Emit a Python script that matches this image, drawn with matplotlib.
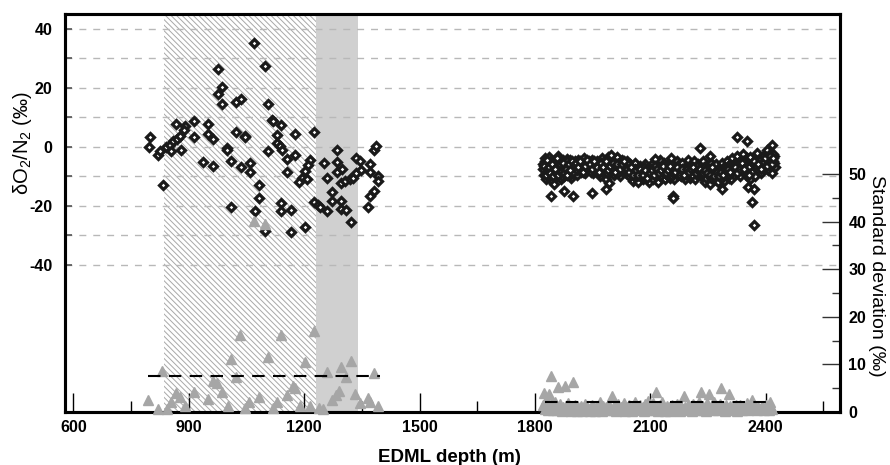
import matplotlib
matplotlib.use("Agg")
import matplotlib.pyplot as plt
from matplotlib.ticker import FixedLocator

plt.rcParams['font.family'] = ['Liberation Sans', 'DejaVu Sans']
plt.rcParams['mathtext.fontset'] = 'custom'
plt.rcParams['mathtext.rm'] = 'Liberation Sans'
plt.rcParams['mathtext.bf'] = 'Liberation Sans:bold'
plt.rcParams['hatch.linewidth'] = 0.7

# ---- shallow section (835-1400 m) : dO2/N2 ----
depth_a = [1070, 1098, 975, 987, 975, 987, 1023, 1035, 1105, 1117, 1119, 1140, 867, 891, 914, 951,
           799, 797, 819, 825, 841, 851, 854, 860, 868, 877, 879, 888, 914, 951, 962, 1023,
           1046, 1047, 998, 999, 1010, 937, 962, 1035, 1058, 1058, 1129, 1128, 1136, 1141, 1106, 1154,
           1177, 1177, 1154, 1225, 1214, 1210, 1201, 1193, 1186, 1206, 1083, 1083, 1010, 1071,
           1098, 1140, 1140, 1165, 1165, 1201, 832, 1225, 1236, 1241, 1260, 1251, 1260, 1286,
           1286, 1286, 1298, 1296, 1307, 1318, 1327, 1334, 1344, 1335, 1348, 1370, 1370, 1381,
           1387, 1392, 1393, 1273, 1273, 1296, 1296, 1308, 1322, 1381, 1370, 1367]
o2n2_a = [35.0, 27.5, 26.5, 20.3, 17.9, 14.6, 15.0, 16.0, 14.5, 9.1, 8.6, 7.2, 7.6, 6.9, 8.7, 7.6,
          3.2, -0.2, -2.7, -1.6, 0.0, 0.5, -1.6, 1.8, 2.6, 3.5, -1.0, 5.7, 3.2, 4.3, 2.6, 5.0,
          3.7, 3.2, -0.4, -1.2, -4.8, -5.1, -6.4, -7.0, -5.5, -8.6, 4.1, 1.2, 0.1, -1.0, -1.6, -4.2,
          4.3, -2.9, -8.6, 5.1, -4.4, -6.1, -8.1, -10.6, -12.0, -11.1, -13.0, -17.4, -20.4, -21.8,
          -28.5, -19.1, -21.8, -21.5, -28.8, -27.4, -13.0, -18.8, -19.9, -20.4, -21.8, -5.7, -10.7, -1.2,
          -5.1, -8.7, -7.5, -12.3, -11.7, -11.1, -10.6, -3.7, -5.0, -8.9, -7.8, -5.8, -8.6, -1.0,
          0.1, -10.0, -11.7, -15.3, -18.5, -18.5, -21.0, -21.5, -25.6, -14.9, -16.8, -20.4]

# ---- shallow section : standard deviation ----
depth_sa = [1033, 1140, 1225, 1009, 1106, 1201, 831, 1321, 1296, 1260, 1381, 1308, 962, 974, 1023,
            1171, 1175, 1290, 1283, 1273, 1333, 1366, 1370, 1392, 1346, 795, 867, 877, 914, 854,
            890, 819, 842, 950, 987, 1002, 1046, 1057, 1082, 1119, 1129, 1154, 1190, 1214, 1238,
            1249, 1070, 1098]
sd_a = [16.2, 16.2, 17.1, 11.1, 11.6, 10.6, 8.7, 10.8, 9.5, 8.3, 8.2, 7.4, 6.5, 6.1, 7.3,
        5.4, 5.1, 4.4, 3.6, 2.5, 3.7, 3.0, 2.0, 1.3, 1.8, 2.5, 3.9, 3.2, 4.2, 2.0,
        1.3, 0.6, 0.6, 2.7, 4.1, 1.3, 0.9, 2.0, 3.2, 0.9, 2.0, 3.5, 1.3, 1.3, 0.9,
        0.6, 40.1, 39.5]

# ---- deep section (1820-2425 m) : dO2/N2 ----
depth_b = [1821, 1823, 1825, 1827, 1829, 1831, 1833, 1835, 1837, 1839, 1841, 1843, 1845, 1847, 1849,
           1851, 1853, 1855, 1857, 1859, 1861, 1863, 1865, 1867, 1869, 1871, 1873, 1875, 1877, 1880,
           1883, 1885, 1888, 1890, 1893, 1895, 1898, 1841, 1850, 1876, 1898, 1884,
           1901, 1904, 1907, 1910, 1913, 1916, 1919, 1922, 1925, 1928, 1931, 1934, 1937, 1940, 1943,
           1946, 1949, 1952, 1955, 1958, 1947,
           1961, 1964, 1967, 1970, 1973, 1976, 1979, 1982, 1985, 1988, 1991, 1994, 1997, 2000, 2003,
           2006, 2009, 2012, 2015, 2018, 2021, 2024, 2027, 2030, 2033, 2036, 2039, 1984, 1993, 1998,
           2042, 2045, 2048, 2051, 2054, 2057, 2060, 2063, 2066, 2069, 2072, 2075, 2078, 2081, 2084,
           2087, 2090, 2093, 2096, 2099,
           2102, 2105, 2108, 2111, 2114, 2117, 2120, 2123, 2126, 2129, 2132, 2135, 2138, 2141, 2144,
           2147, 2150, 2153, 2156, 2159, 2162, 2165, 2168, 2171, 2174, 2177, 2112, 2159, 2160,
           2180, 2183, 2186, 2189, 2192, 2195, 2198, 2201, 2204, 2207, 2210, 2213, 2216, 2219, 2222,
           2225, 2228, 2231, 2234, 2237, 2229,
           2240, 2243, 2246, 2249, 2252, 2255, 2258, 2261, 2264, 2267, 2270, 2273, 2276, 2279, 2282,
           2285, 2288, 2291, 2294, 2297, 2254, 2285, 2304,
           2300, 2303, 2306, 2309, 2312, 2315, 2318, 2321, 2324, 2327, 2330, 2333, 2336, 2339, 2324,
           2342, 2345, 2348, 2350, 2352, 2354, 2356, 2358, 2360, 2363, 2365, 2367, 2369, 2369, 2372,
           2375, 2378, 2381, 2384, 2387, 2390,
           2393, 2396, 2399, 2402, 2405, 2408, 2411, 2413, 2415, 2417, 2419, 2421, 2423,
           1822, 1826, 1830, 1834, 1838, 1842, 1846, 1850, 1854, 1858, 1862, 1866, 1870, 1874, 1878,
           1882, 1886, 1890, 1894, 1899,
           1903, 1909, 1915, 1921, 1927, 1933, 1939, 1945, 1951, 1957, 1963, 1969, 1975, 1981, 1987,
           1993, 1999, 2005, 2011, 2017, 2023, 2029, 2035, 2041,
           2047, 2053, 2059, 2065, 2071, 2077, 2083, 2089, 2095, 2101, 2107, 2113, 2119, 2125, 2131,
           2137, 2143, 2149, 2155, 2161, 2167, 2173, 2179,
           2185, 2191, 2197, 2203, 2209, 2215, 2221, 2227, 2233, 2239, 2245, 2251, 2257, 2263, 2269,
           2275, 2281, 2287, 2293, 2299, 2305, 2311, 2317, 2323, 2329, 2335, 2341,
           2394, 2400, 2406, 2412, 2418, 2422,
           1824, 1828, 1832, 1836, 1840, 1844, 1848, 1852, 1856, 1860, 1864, 1868, 1872, 1876, 1880,
           1884, 1888, 1892, 1896,
           1906, 1912, 1918, 1924, 1930, 1936, 1942, 1948, 1954, 1960, 1966, 1972, 1978, 1984, 1990,
           1996, 2002, 2008, 2014, 2020, 2026, 2032, 2038,
           2044, 2050, 2056, 2062, 2068, 2074, 2080, 2086, 2092, 2098, 2104, 2110, 2116, 2122, 2128,
           2134, 2140, 2146, 2152, 2158, 2164, 2170, 2176,
           2182, 2188, 2194, 2200, 2206, 2212, 2218, 2224, 2230, 2236, 2242, 2248, 2254, 2260, 2266,
           2272, 2278, 2284, 2290, 2296, 2302, 2308, 2314, 2320, 2326, 2332, 2338,
           2344, 2357, 2370, 2380, 2388, 2398, 2404, 2410, 2416, 2420]
o2n2_b = [-6.0, -9.5, -4.0, -8.0, -11.0, -5.5, -7.5, -10.0, -3.5, -8.5, -6.5, -11.5, -5.0, -9.0, -7.0,
          -4.5, -10.5, -6.0, -8.5, -3.0, -7.5, -9.5, -5.5, -11.0, -6.5, -8.0, -4.5, -10.0, -7.0, -5.5,
          -9.0, -6.0, -8.0, -4.5, -10.5, -7.0, -5.5, -16.8, -12.8, -15.1, -16.8, -4.1,
          -8.0, -5.0, -7.0, -9.5, -4.5, -6.5, -8.5, -5.5, -7.5, -4.0, -9.0, -6.0, -7.5, -5.0, -8.0,
          -6.5, -4.5, -9.0, -6.0, -7.5, -15.6,
          -5.0, -8.0, -6.0, -10.0, -4.0, -7.0, -9.0, -5.5, -11.0, -6.5, -3.5, -8.5, -5.5, -7.5, -4.5,
          -9.5, -6.0, -3.5, -8.0, -5.5, -10.0, -6.5, -4.5, -8.5, -6.0, -9.0, -5.0, -14.2, -12.3, -2.7,
          -7.0, -10.0, -6.0, -9.0, -11.5, -7.5, -5.5, -10.5, -8.0, -12.0, -6.5, -9.5, -7.5, -11.0, -8.5,
          -6.0, -10.0, -8.0, -12.0, -7.0,
          -9.5, -6.0, -11.0, -7.5, -5.0, -9.0, -12.0, -7.0, -4.5, -10.0, -8.0, -5.5, -11.0, -7.5, -9.5,
          -6.0, -10.5, -4.0, -8.5, -6.5, -11.0, -7.0, -5.0, -9.5, -6.0, -8.0, -4.2, -16.8, -17.4,
          -10.0, -5.5, -8.0, -11.0, -6.5, -9.0, -4.5, -7.5, -10.5, -6.0, -8.5, -5.0, -11.0, -7.0, -9.5,
          -6.0, -8.0, -10.0, -7.0, -5.0, -0.4,
          -9.0, -12.0, -6.5, -10.0, -8.0, -12.5, -5.5, -9.5, -7.5, -11.0, -6.0, -9.0, -12.0, -7.5, -10.0,
          -5.5, -8.5, -11.5, -6.5, -9.0, -3.0, -14.5, -10.6,
          -5.0, -8.5, -6.0, -11.0, -4.0, -7.5, -9.5, -5.5, -3.0, -8.0, -6.0, -10.0, -4.5, -7.0, 3.3,
          -2.5, -6.0, -9.5, -4.0, 2.0, -13.7, -7.0, -11.0, -3.5, -8.5, -18.8, -5.5, -14.2, -26.7, -10.0,
          -6.5, -2.0, -8.0, -4.5, -9.0, -6.0,
          -3.0, -7.5, -5.0, -1.0, -8.0, -4.0, -6.5, -2.0, -9.0, 0.5, -5.0, -3.0, -7.0,
          -7.5, -5.0, -9.0, -6.0, -10.0, -4.5, -8.0, -6.0, -9.0, -5.0, -8.5, -7.0, -10.0, -6.0, -8.5,
          -5.0, -7.5, -9.5, -6.0, -8.5,
          -6.5, -8.0, -5.5, -7.0, -8.5, -5.0, -7.0, -8.5, -5.5, -7.0, -6.5, -8.5, -5.5, -7.5, -9.0,
          -6.0, -8.0, -5.5, -7.0, -9.0, -5.5, -7.0, -8.0, -6.0,
          -8.5, -9.0, -7.5, -10.0, -8.5, -10.0, -7.0, -9.0, -8.0, -7.5, -9.0, -6.5, -8.5, -10.0, -7.0,
          -9.0, -6.5, -8.0, -10.0, -7.5, -9.0, -7.5, -8.5,
          -9.0, -7.5, -9.5, -6.5, -9.5, -8.0, -6.5, -9.0, -8.5, -7.0, -10.5, -8.5, -10.5, -8.0, -9.5,
          -7.5, -9.0, -10.5, -8.0, -7.0, -9.5, -7.5, -6.0, -8.0, -7.5, -6.0, -5.0,
          -5.5, -3.5, -6.0, -4.5, -2.5, -5.5,
          -6.5, -9.5, -4.5, -7.0, -9.0, -6.0, -10.0, -7.5, -4.0, -9.5, -6.0, -8.5, -5.5, -9.0, -7.5,
          -9.5, -6.0, -8.0, -5.0,
          -5.5, -7.0, -5.0, -8.5, -6.5, -4.5, -6.0, -7.5, -5.0, -7.0, -8.5, -5.5, -7.0, -5.0, -8.0,
          -6.5, -5.5, -8.5, -6.0, -7.5, -6.0, -5.0, -7.5,
          -8.5, -7.0, -9.5, -8.0, -9.5, -7.5, -9.5, -8.0, -10.5, -9.0, -8.0, -9.5, -7.5, -9.0, -8.0,
          -6.5, -9.0, -8.0, -6.5, -9.0, -8.5, -7.0, -9.5,
          -7.5, -9.5, -7.5, -8.5, -7.5, -7.0, -9.0, -8.0, -7.5, -9.0, -8.0, -9.0, -9.5, -7.0, -10.0,
          -8.5, -10.0, -8.5, -9.5, -8.0, -7.5, -8.5, -6.5, -7.0, -9.0, -7.5, -5.5,
          -7.5, -9.5, -5.0, -6.0, -7.5, -4.0, -6.5, -3.0, -6.0, -4.0]

# ---- deep section : standard deviation ----
depth_sb = [1822, 1824, 1826, 1828, 1830, 1833, 1835, 1837, 1839, 1841, 1843, 1846, 1848, 1851, 1853,
            1856, 1858, 1860, 1863, 1866, 1869, 1872, 1875, 1878, 1881, 1884, 1887, 1890, 1893, 1896,
            1898, 1901, 1905, 1908, 1912, 1915, 1919, 1922, 1926, 1929, 1933, 1936, 1940, 1943, 1947,
            1950, 1954, 1957, 1961, 1964, 1968, 1971, 1975, 1978, 1982, 1985, 1989, 1992, 1996, 1999,
            2003, 2006, 2010, 2013, 2017, 2020, 2024, 2027, 2031, 2034, 2038, 2041, 2045, 2048, 2052,
            2055, 2059, 2062, 2066, 2069, 2073, 2076, 2080, 2083, 2087, 2090, 2094, 2097, 2101, 2104,
            2108, 2111, 2114, 2117, 2121, 2124, 2128, 2131, 2135, 2138, 2142, 2145, 2149, 2152, 2156,
            2159, 2163, 2166, 2170, 2173, 2177, 2180, 2184, 2187, 2191, 2194, 2198, 2201, 2205, 2208,
            2212, 2215, 2219, 2222, 2226, 2229, 2231, 2234, 2238, 2241, 2245, 2248, 2252, 2255, 2259,
            2262, 2266, 2269, 2273, 2276, 2280, 2283, 2287, 2290, 2294, 2297, 2301, 2304, 2308, 2311,
            2315, 2318, 2322, 2326, 2330, 2334, 2338, 2342, 2346, 2350, 2354, 2358, 2361, 2364, 2368,
            2372, 2376, 2380, 2385, 2390, 2395, 2400, 2404, 2408, 2410, 2413, 2416]
sd_b = [1.5, 3.9, 0.6, 2.5, 1.0, 0.4, 1.8, 3.7, 0.8, 7.6, 2.0, 0.5, 1.4, 0.9, 2.2,
        0.4, 1.2, 5.3, 0.7, 1.6, 0.3, 1.0, 0.6, 5.5, 1.3, 0.5, 1.8, 0.8, 0.3, 1.1,
        6.4, 0.6, 1.5, 0.3, 1.0, 0.5, 1.3, 0.2, 0.8, 1.6, 0.4, 1.1, 0.6, 0.2, 1.4,
        0.7, 1.0, 0.3, 1.2, 0.5, 2.0, 0.8, 0.3, 1.3, 0.6, 1.0, 0.4, 1.5, 0.7, 3.4,
        0.5, 1.2, 0.3, 0.9, 1.6, 0.4, 1.1, 0.6, 1.8, 0.3, 1.0, 0.5, 1.4, 0.8, 0.2,
        1.2, 2.2, 0.6, 1.0, 0.4, 1.5, 0.7, 1.1, 0.3, 1.6, 0.8, 2.3, 0.5, 1.2, 0.4,
        1.8, 0.7, 4.3, 1.0, 0.3, 1.5, 0.6, 2.0, 0.9, 0.3, 1.3, 0.6, 1.0, 0.2, 1.4,
        0.7, 1.1, 0.4, 1.7, 0.8, 0.3, 1.2, 0.6, 3.4, 1.0, 0.4, 1.5, 0.7, 1.2, 0.3,
        1.6, 0.6, 1.0, 0.4, 2.0, 0.8, 4.3, 1.3, 0.5, 1.0, 0.3, 1.8, 3.7, 0.9, 1.4,
        0.4, 2.2, 0.8, 1.2, 0.4, 1.6, 5.0, 0.7, 1.1, 0.3, 1.5, 0.8, 3.7, 1.3, 0.4,
        1.0, 0.6, 1.5, 0.3, 0.9, 1.4, 0.5, 1.1, 0.7, 1.8, 0.4, 1.0, 0.6, 2.5, 0.8,
        1.3, 0.4, 1.0, 0.6, 1.2, 0.4, 1.5, 0.8, 0.5, 2.2, 1.0, 0.6]

# mean standard deviation of each section (dashed lines)
mean_sd = [7.6, 2.1]
mean_from = [795, 1827]
mean_to = [1396, 2400]

# shaded depth intervals
hatch_zone = (835, 1230)
grey_zone = (1230, 1340)

fig = plt.figure(figsize=(8.9, 4.65), dpi=100)
ax = fig.add_axes([65/890, 1 - 412/465, 775/890, 398/465])

ax.axvspan(hatch_zone[0], hatch_zone[1], facecolor='none', edgecolor='#a8a8a8',
           hatch='\\' * 6, linewidth=0, zorder=0.5)
ax.axvspan(grey_zone[0], grey_zone[1], facecolor='#d0d0d0', edgecolor='none', zorder=0.5)

ax.plot(depth_a, o2n2_a, 'D', ms=4.4, mfc='white', mec='#1a1a1a', mew=2.3, zorder=3)
ax.plot(depth_b, o2n2_b, 'D', ms=4.4, mfc='white', mec='#1a1a1a', mew=2.3, zorder=3)

ax.set_xlim(578, 2593)
ax.set_ylim(-90, 45)
ax.xaxis.set_major_locator(FixedLocator([600, 900, 1200, 1500, 1800, 2100, 2400]))
ax.xaxis.set_minor_locator(FixedLocator([750, 1050, 1350, 1650, 1950, 2250, 2550]))
ax.yaxis.set_major_locator(FixedLocator([-40, -30, -20, -10, 0, 10, 20, 30, 40]))
ax.set_yticklabels(['-40', '', '-20', '', '0', '', '20', '', '40'])
ax.grid(axis='y', ls=(0, (5, 5)), color='#b8b8b8', lw=1)
ax.tick_params(axis='x', which='major', direction='in', length=14, width=1, color='black',
               labelsize=11.5, pad=6, top=False)
ax.tick_params(axis='x', which='minor', direction='in', length=8, width=1, color='black')
ax.tick_params(axis='y', which='major', direction='in', length=5, width=1.2, color='#555555',
               labelsize=11.5, pad=9)
for s in ax.spines.values():
    s.set_linewidth(2.2)

ax2 = ax.twinx()
ax2.plot(depth_sa, sd_a, '^', ms=6.5, color='#a6a6a6', mec='#a6a6a6', clip_on=False, zorder=3)
ax2.plot(depth_sb, sd_b, '^', ms=6.5, color='#a6a6a6', mec='#a6a6a6', clip_on=False, zorder=3)
ax2.hlines(mean_sd, mean_from, mean_to, colors='black', linestyles=(0, (6, 4)), lw=1.5, zorder=4)
ax2.set_ylim(0, 83.6)
ax2.yaxis.set_major_locator(FixedLocator([0, 10, 20, 30, 40, 50]))
ax2.yaxis.set_minor_locator(FixedLocator([5, 15, 25, 35, 45]))
ax2.tick_params(axis='y', which='major', direction='in', length=13, width=1, color='#333333',
                labelsize=11.5, pad=6)
ax2.tick_params(axis='y', which='minor', direction='in', length=6, width=1, color='#333333')
for s in ax2.spines.values():
    s.set_linewidth(2.2)

for lab in ax.get_xticklabels() + ax.get_yticklabels() + ax2.get_yticklabels():
    lab.set_fontweight('bold')

fig.text(449/890, 1 - 461.5/465, 'EDML depth (m)', ha='center', va='baseline', fontsize=13.5,
         fontweight='bold')
fig.text(22/890, 1 - 143/465, 'δO$_2$/N$_2$ (‰)', ha='center', va='center', rotation=90,
         fontsize=14.5)
fig.text(877/890, 1 - 276/465, 'Standard deviation (‰)', ha='center', va='center', rotation=270,
         fontsize=14)

fig.savefig('out.png', dpi=100)
